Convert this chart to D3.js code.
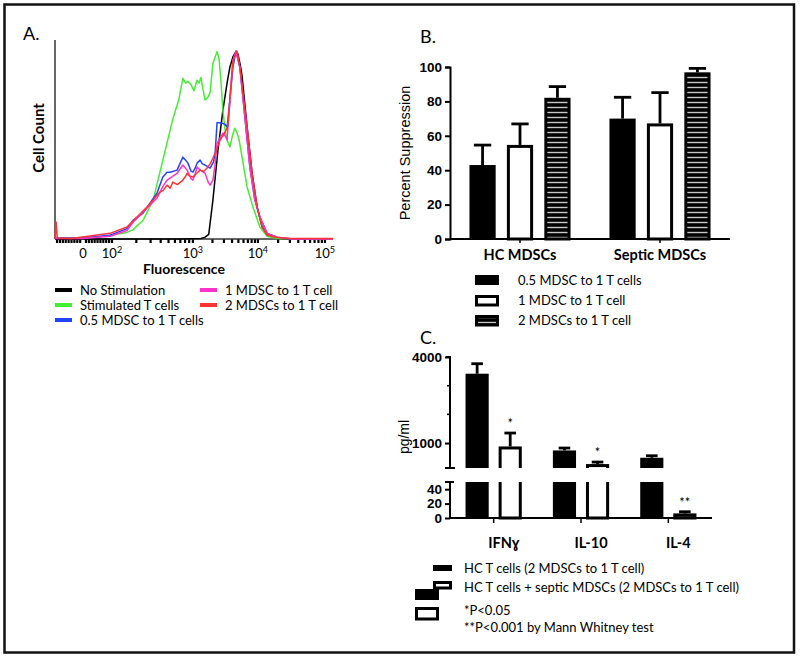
<!DOCTYPE html>
<html><head><meta charset="utf-8">
<script src="https://cdn.jsdelivr.net/npm/d3@7"></script>
<style>body{margin:0;background:#fff}</style>
</head><body>
<svg id="chart" width="800" height="658" xmlns="http://www.w3.org/2000/svg"></svg>
<script>
// ================= DATA =================
// Panel A: histograms, x = display channel (0-1000), y = % of mode
const histNoStim = [[0,0],[450,0],[525,0.3],[540,1],[553,2.5],[568,20.7],[586,47],[604,68.6],[620,84],[629,91.5],[640,97],[651,100],[658,98.5],[666,93],[673,86.7],[691,59.6],[709,35],[727,17],[745,6.4],[763,2],[799,0.5],[845,0],[1000,0]];
const histStim = [[0,0.5],[60,0.5],[150,1],[198,2],[259,3.5],[281,5],[317,10],[353,20.7],[388,42],[424,64],[445,74],[460,85.6],[470,83],[478,84],[490,82],[500,79],[511,84.6],[518,83],[525,86],[532,80],[540,74],[550,75.5],[558,78],[568,93.6],[583,99.8],[590,96],[597,84],[604,68.6],[612,58],[619,52.7],[629,49],[640,56],[647,59],[655,56.4],[662,53],[673,43.6],[691,27.7],[712,17],[737,6.4],[763,1.5],[800,0.3],[1000,0]];
const histHalf = [[0,0.5],[100,0.5],[198,2],[259,5.5],[281,10],[317,13.8],[367,24.5],[388,33],[403,35.5],[414,35.6],[439,36.7],[460,43.6],[470,42],[478,40.4],[490,36],[496,35.6],[505,38],[511,40.4],[522,42],[530,40],[540,39.4],[558,37.8],[570,41],[576,45.7],[583,62],[601,61.7],[612,61],[619,59.6],[629,74],[640,91.5],[651,100],[665,91.5],[683,65],[701,38.3],[719,20.7],[737,11.7],[763,3],[799,1],[850,0],[1000,0]];
const histOne = [[0,0.3],[100,0.3],[198,1.5],[259,4.5],[281,9],[367,21.8],[388,28],[403,31.4],[439,35],[460,39.4],[468,38],[475,36.7],[490,32],[496,31.4],[505,35],[511,38.3],[520,37],[540,35],[552,30],[558,28.7],[568,31.4],[576,40],[583,51],[604,56.4],[612,55],[619,52.7],[629,74],[640,95.2],[651,100],[665,91.5],[683,65],[701,38.3],[719,20.7],[737,11.7],[763,3],[799,1],[850,0],[1000,0]];
const histTwo = [[0,0],[4,9],[8,0.5],[60,0.3],[198,3],[259,6.4],[295,11.7],[331,17],[353,20.7],[365,23],[378,25],[390,26],[403,28.7],[414,27],[424,30.3],[440,29],[460,31.4],[468,33],[475,35],[485,33.5],[496,33],[510,35],[522,36.7],[535,36],[547,37.8],[558,40],[568,43],[580,47],[594,52.7],[612,57],[622,60],[629,74],[640,95.2],[655,100],[665,91.5],[691,59.6],[709,35],[727,17],[745,6.4],[763,2],[799,0.8],[850,0.3],[1000,0.3]];
const histNames = ["No Stimulation","Stimulated T cells","0.5 MDSC to 1 T cells","1 MDSC to 1 T cell","2 MDSCs to 1 T cell"];
const histColors = ["#000000","#44ee33","#2244ff","#ff33cc","#ff3333"];
const fluorTickChannels = [101,205,496,730,971];   // channel of 0, 10^2, 10^3, 10^4, 10^5
const fluorTickBase = ["0","10","10","10","10"];
const fluorTickExp = ["","2","3","4","5"];

// Panel B
const bGroups = ["HC MDSCs","Septic MDSCs"];
const bSeries = ["0.5 MDSC to 1 T cells","1 MDSC to 1 T cell","2 MDSCs to 1 T cell"];
const bMeanHC = [43.0,54.7,82.1];
const bErrHC = [11.6,12.2,6.5];
const bMeanSeptic = [70.0,67.2,96.9];
const bErrSeptic = [12.4,17.9,2.3];
const bStyles = ["black","white","stripes"];
const bTicks = [0,20,40,60,80,100];

// Panel C
const cCytokines = ["IFNɣ","IL-10","IL-4"];
const cSeries = ["HC T cells (2 MDSCs to 1 T cell)","HC T cells + septic MDSCs (2 MDSCs to 1 T cell)"];
const cMeanHC = [3417,742,487];
const cErrHC = [349,84,70];
const cMeanSeptic = [881,267,6.4];
const cErrSeptic = [468,70,2.3];
const cSig = ["*","*","**"];
const cStyles = ["black","white"];
const cUpperTicks = [1000,4000];
const cUpperMinor = [2000,3000];
const cLowerTicks = [0,20,40];
const cNotes = ["*P<0.05","**P<0.001 by Mann Whitney test"];

// ================= DRAW =================
const FONT = "Lato, 'Open Sans', sans-serif";
const ARIAL = "'Liberation Sans', Arial, sans-serif";
const svg = d3.select("#chart");
const defs = svg.append("defs");
const pat = defs.append("pattern").attr("id","stripes").attr("patternUnits","userSpaceOnUse")
  .attr("width",10).attr("height",5);
pat.append("rect").attr("width",10).attr("height",5).attr("fill","#000");
pat.append("line").attr("x1",0).attr("x2",10).attr("y1",2.5).attr("y2",2.5).attr("stroke","#c8c8c8").attr("stroke-width",1.4);

svg.append("rect").attr("width",800).attr("height",658).attr("fill","#fff");
svg.append("rect").attr("x",4.5).attr("y",4.5).attr("width",789.5).attr("height",648)
  .attr("fill","none").attr("stroke","#111").attr("stroke-width",2.5);

function label(g, x, y, txt, size, weight, family, anchor){
  return g.append("text").attr("x",x).attr("y",y).text(txt)
    .attr("font-size",size).attr("font-weight",weight||"normal")
    .attr("font-family",family||FONT).attr("text-anchor",anchor||"start")
    .attr("fill","#000");
}

// ---------- Panel A ----------
const gA = svg.append("g");
const xA = d3.scaleLinear().domain([0,1000]).range([55,333]);
const yA = d3.scaleLinear().domain([0,106]).range([239,40]);
label(gA, 23, 40, "A.", 18);

// minor ticks (logicle-like)
const c0 = fluorTickChannels[0];
const minorTicks = [];
for (let v=10; v<100; v+=10){
  minorTicks.push(c0 + (fluorTickChannels[1]-c0)*v/100);
  minorTicks.push(c0 - (fluorTickChannels[1]-c0)*v/100);
}
for (let k=1;k<4;k++){
  for (let m=1;m<10;m++){
    minorTicks.push(fluorTickChannels[k] + (fluorTickChannels[k+1]-fluorTickChannels[k])*Math.log10(m));
  }
}
minorTicks.push(fluorTickChannels[4]);
gA.selectAll("line.mt").data(minorTicks.filter(t=>t>=0 && t<=1000)).join("line")
  .attr("x1",d=>xA(d)).attr("x2",d=>xA(d)).attr("y1",yA(0)).attr("y2",yA(0)+4)
  .attr("stroke","#000").attr("stroke-width",2.2);

gA.append("line").attr("x1",xA(0)).attr("x2",xA(0)).attr("y1",yA.range()[1]).attr("y2",yA(0))
  .attr("stroke","#333").attr("stroke-width",1.5);
gA.append("line").attr("x1",xA(0)).attr("x2",xA(1000)).attr("y1",yA(0)).attr("y2",yA(0))
  .attr("stroke","#333").attr("stroke-width",1.5);

const lineA = d3.line().x(d=>xA(d[0])).y(d=>yA(d[1]));
const hists = [histNoStim,histStim,histHalf,histOne,histTwo];
hists.forEach((h,i)=>{
  gA.append("path").attr("d",lineA(h)).attr("fill","none")
    .attr("stroke",histColors[i]).attr("stroke-width",1.5).attr("stroke-linejoin","round");
});

fluorTickChannels.forEach((c,i)=>{
  const t = gA.append("text").attr("x",xA(c)).attr("y",258).attr("text-anchor","middle")
    .attr("font-family",FONT).attr("font-size",13);
  t.append("tspan").text(fluorTickBase[i]);
  if (fluorTickExp[i]) t.append("tspan").text(fluorTickExp[i]).attr("dy",-5).attr("font-size",9);
});
label(gA, 184, 274, "Fluorescence", 14, "bold", FONT, "middle");
gA.append("text").attr("transform","translate(44,138) rotate(-90)").attr("text-anchor","middle")
  .attr("font-family",FONT).attr("font-weight","bold").attr("font-size",15).text("Cell Count");

// legend A
const legA = [[55,290],[55,305],[55,320],[200,290],[200,305]];
histNames.forEach((name,i)=>{
  const [lx,ly] = legA[i];
  gA.append("line").attr("x1",lx).attr("x2",lx+17).attr("y1",ly).attr("y2",ly)
    .attr("stroke",histColors[i]).attr("stroke-width",4);
  label(gA, lx+25, ly, name, 13).attr("dominant-baseline","central");
});

// bar helper
function drawBar(g, x, y, w, h, style){
  const r = g.append("rect");
  if (style==="white"){
    r.attr("x",x+1.5).attr("y",y+1.5).attr("width",Math.max(0,w-3)).attr("height",Math.max(0,h-1.5))
     .attr("fill","#fff").attr("stroke","#000").attr("stroke-width",3);
  } else if (style==="stripes"){
    r.attr("x",x+1.5).attr("y",y+1.5).attr("width",Math.max(0,w-3)).attr("height",Math.max(0,h-1.5))
     .attr("fill","url(#stripes)").attr("stroke","#000").attr("stroke-width",3);
  } else {
    r.attr("x",x).attr("y",y).attr("width",w).attr("height",h).attr("fill","#000");
  }
  return r;
}
function errBar(g, cx, y0, y1, half){
  g.append("line").attr("x1",cx).attr("x2",cx).attr("y1",y0).attr("y2",y1)
    .attr("stroke","#000").attr("stroke-width",2.8);
  g.append("line").attr("x1",cx-half).attr("x2",cx+half).attr("y1",y1).attr("y2",y1)
    .attr("stroke","#000").attr("stroke-width",2.8);
}

// ---------- Panel B ----------
const gB = svg.append("g");
label(gB, 420, 43, "B.", 18);
const xB0 = d3.scaleBand().domain(bGroups).range([450,730]);
const xB1 = d3.scaleBand().domain(bSeries).range([0,xB0.bandwidth()]).paddingInner(0.3).paddingOuter(0.52);
const yB = d3.scaleLinear().domain([0,100]).range([239,67]);
const bMeans = [bMeanHC,bMeanSeptic], bErrs = [bErrHC,bErrSeptic];
bGroups.forEach((grp,gi)=>{
  bSeries.forEach((s,si)=>{
    const x = xB0(grp)+xB1(s), w = xB1.bandwidth();
    const m = bMeans[gi][si], e = bErrs[gi][si];
    errBar(gB, x+w/2, yB(m), yB(m+e), w*0.33);
    drawBar(gB, x, yB(m), w, yB(0)-yB(m), bStyles[si]);
  });
});
const axB = gB.append("g").attr("transform","translate(450,0)")
  .call(d3.axisLeft(yB).tickValues(bTicks).tickSize(5).tickPadding(3));
axB.select(".domain").attr("stroke","#000").attr("stroke-width",2);
axB.selectAll(".tick line").attr("stroke","#000").attr("stroke-width",2);
axB.selectAll(".tick text").attr("font-family",ARIAL).attr("font-weight","bold").attr("font-size",13.5).attr("fill","#000");
gB.append("line").attr("x1",450).attr("x2",730).attr("y1",yB(0)).attr("y2",yB(0)).attr("stroke","#000").attr("stroke-width",2);
bGroups.forEach(grp=>{
  const cx = xB0(grp)+xB0.bandwidth()/2;
  gB.append("line").attr("x1",cx).attr("x2",cx).attr("y1",yB(0)).attr("y2",yB(0)+4).attr("stroke","#000").attr("stroke-width",1.5);
  label(gB, cx, 260, grp, 14.5, "bold", FONT, "middle");
});
gB.append("text").attr("transform","translate(410,153) rotate(-90)").attr("text-anchor","middle")
  .attr("font-family",ARIAL).attr("font-size",14.5).text("Percent Suppression");
// legend B
bSeries.forEach((s,i)=>{
  const ly = 280 + i*20;
  drawBar(gB, 475, ly-5, 24, 10, bStyles[i]);
  label(gB, 518, ly, s, 13).attr("dominant-baseline","central");
});

// ---------- Panel C ----------
const gC = svg.append("g");
label(gC, 420, 344, "C.", 18);
const xC0 = d3.scaleBand().domain(cCytokines).range([450,712]);
const xC1 = d3.scaleBand().domain(cSeries).range([0,xC0.bandwidth()]).paddingInner(0.3).paddingOuter(0.47);
const yUp = d3.scaleLinear().domain([130,4000]).range([468,357]);
const yLo = d3.scaleLinear().domain([0,50]).range([518,482]);
defs.append("clipPath").attr("id","clipUp").append("rect").attr("x",440).attr("y",330).attr("width",300).attr("height",468-330);
defs.append("clipPath").attr("id","clipLo").append("rect").attr("x",440).attr("y",482).attr("width",300).attr("height",40);
const gUp = gC.append("g").attr("clip-path","url(#clipUp)");
const gLo = gC.append("g").attr("clip-path","url(#clipLo)");
const cMeans = [cMeanHC,cMeanSeptic], cErrs = [cErrHC,cErrSeptic];
cCytokines.forEach((cy,ci)=>{
  cSeries.forEach((s,si)=>{
    const x = xC0(cy)+xC1(s), w = xC1.bandwidth();
    const m = cMeans[si][ci], e = cErrs[si][ci];
    if (m > yUp.domain()[0]){
      errBar(gUp, x+w/2, yUp(m), yUp(m+e), w*0.25);
      drawBar(gUp, x, yUp(m), w, yUp(0)-yUp(m)+10, cStyles[si]);
    }
    if (m+e <= yLo.domain()[1]) errBar(gLo, x+w/2, yLo(m), yLo(m+e), w*0.25);
    const top = Math.max(yLo(m), 470);
    drawBar(gLo, x, top, w, yLo(0)-top, cStyles[si]);
    if (si===1){
      const ytop = (m+e > yLo.domain()[1]) ? yUp(m+e) : yLo(m+e);
      label(gC, x+w/2, ytop-5, cSig[ci], 13, "normal", FONT, "middle");
    }
  });
});
const axUp = gC.append("g").attr("transform","translate(450,0)")
  .call(d3.axisLeft(yUp).tickValues(cUpperTicks).tickFormat(d3.format("d")).tickSize(5).tickPadding(3));
const axLo = gC.append("g").attr("transform","translate(450,0)")
  .call(d3.axisLeft(yLo).tickValues(cLowerTicks).tickSize(5).tickPadding(3));
[axUp,axLo].forEach(a=>{
  a.select(".domain").attr("stroke","#000").attr("stroke-width",2);
  a.selectAll(".tick line").attr("stroke","#000").attr("stroke-width",2);
  a.selectAll(".tick text").attr("font-family",ARIAL).attr("font-weight","bold").attr("font-size",13.5).attr("fill","#000");
});
axUp.select(".domain").attr("d",`M-4,${yUp(4000)}H0V${yUp.range()[0]}M-5,${yUp.range()[0]}H5`);
axLo.select(".domain").attr("d",`M-5,${yLo.range()[1]}H4M0,${yLo.range()[1]}V${yLo(0)}`);
gC.selectAll("line.cmin").data(cUpperMinor).join("line")
  .attr("x1",447).attr("x2",450).attr("y1",d=>yUp(d)).attr("y2",d=>yUp(d))
  .attr("stroke","#000").attr("stroke-width",1.5);
gC.append("line").attr("x1",450).attr("x2",712).attr("y1",yLo(0)).attr("y2",yLo(0)).attr("stroke","#000").attr("stroke-width",2);
cCytokines.forEach(cy=>{
  const cx = xC0(cy)+xC0.bandwidth()/2;
  gC.append("line").attr("x1",cx).attr("x2",cx).attr("y1",yLo(0)).attr("y2",yLo(0)+5).attr("stroke","#000").attr("stroke-width",1.5);
  label(gC, cx+10, 548, cy, 14.5, "bold", FONT, "middle");
});
gC.append("text").attr("transform","translate(409,437) rotate(-90)").attr("text-anchor","middle")
  .attr("font-family",ARIAL).attr("font-size",14).text("pg/ml");
// legend C
drawBar(gC, 433, 565, 19, 6, "black");
drawBar(gC, 433, 581, 19, 7, "white");
cSeries.forEach((s,i)=>{
  label(gC, 464, 568 + i*19, s, 13).attr("dominant-baseline","central");
});
drawBar(gC, 415, 589, 24, 11, "black");
drawBar(gC, 415, 607, 24, 12, "white");
cNotes.forEach((s,i)=>{
  label(gC, 464, 610 + i*17, s, 13).attr("dominant-baseline","central");
});
</script>
</body></html>
